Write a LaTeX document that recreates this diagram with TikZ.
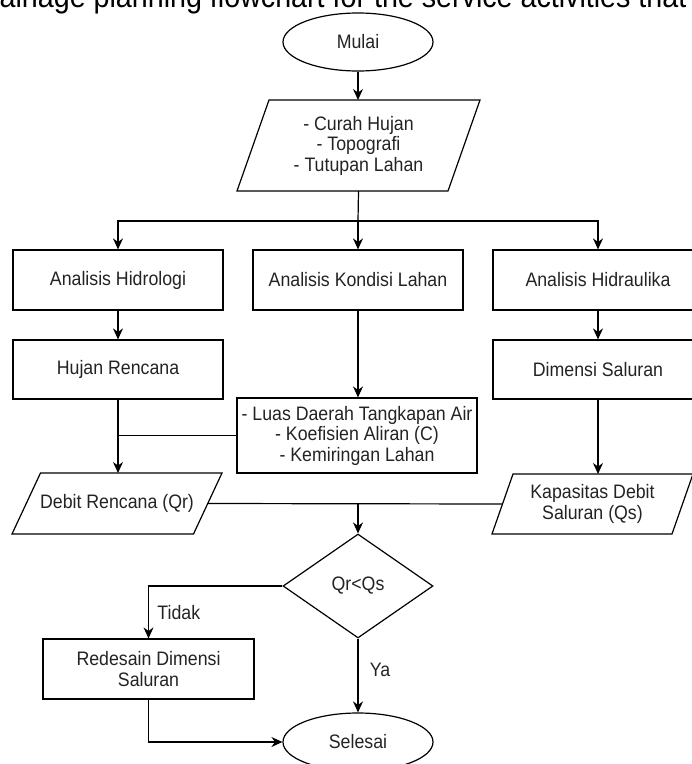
\documentclass[tikz,border=0pt]{standalone}
\usepackage{fontspec}
\setmainfont{Liberation Sans}[FakeStretch=0.91]
\usetikzlibrary{shapes.geometric,arrows.meta,calc}
\definecolor{tinta}{RGB}{35,35,35}
\tikzset{
    teks/.style={
        font=\fontsize{19.5}{20.5}\selectfont, text=tinta, align=center
    },
    blok/.style={
        teks, draw, line width=1.2pt, inner sep=0pt,
        minimum width=210pt, minimum height=60pt
    },
    terminal/.style={
        teks, draw, ellipse, line width=1.2pt, inner sep=0pt,
        minimum width=150pt, minimum height=58pt
    },
    masukan/.style={
        teks, inner sep=0pt, outer sep=0pt
    },
    keputusan/.style={
        teks, draw, diamond, line width=1.2pt, inner sep=0pt,
        minimum width=150pt, minimum height=104pt
    },
    garis/.style={line width=1.2pt},
    panah/.style={garis, -{Stealth[length=11pt,width=10pt]}}
}
% jajaran genjang di sekeliling node masukan: {node}{geser}
\newcommand{\jajargenjang}[2]{%
    \draw[garis] ($(#1.south west)+(-#2/2,0)$) -- ($(#1.south east)+(-#2/2,0)$)
        -- ($(#1.north east)+(#2/2,0)$) -- ($(#1.north west)+(#2/2,0)$) -- cycle;}

\begin{document}
\begin{tikzpicture}[x=1pt,y=-1pt,line join=miter]

% --- bidang gambar (ukuran sama dengan acuan) ---
    \useasboundingbox (0,0) rectangle (692,764);
    \clip (0,0) rectangle (692,764);

% judul yang terpotong di tepi atas
    \node[anchor=base west, inner sep=0pt, font=\fontsize{31.5}{34}\selectfont]
        (judul) at (-26,7) {drainage planning flowchart for the service activities that};

% mulai dan data masukan
    \node[terminal] (mulai) at (358,42) {Mulai};
    \node[masukan, minimum width=211pt, minimum height=91pt]
        (data) at (358.5,145.5) {- Curah Hujan\\- Topografi\\- Tutupan Lahan};
    \jajargenjang{data}{32}

% tiga kolom analisis
    \node[blok] (hidro) at (118,280) {Analisis Hidrologi};
    \node[blok] (kondisi) at (358,280) {Analisis Kondisi Lahan};
    \node[blok] (hidra) at (598,280) {Analisis Hidraulika};
    \node[blok, minimum height=59pt] (hujan) at (118,369.5) {Hujan Rencana};
    \node[blok, minimum height=59pt] (dimensi) at (598,369.5) {Dimensi Saluran};
    \node[blok, minimum width=240pt, minimum height=75pt]
        (luas) at (357,435.5) {- Luas Daerah Tangkapan Air\\- Koefisien Aliran (C)\\- Kemiringan Lahan};

% debit rencana dan kapasitas saluran
    \node[masukan, minimum width=181.5pt, minimum height=61pt]
        (debit) at (117,503.5) {Debit Rencana (Qr)};
    \jajargenjang{debit}{28.5}
    \node[masukan, minimum width=180pt, minimum height=60pt]
        (kapasitas) at (592.5,504) {Kapasitas Debit\\Saluran (Qs)};
    \jajargenjang{kapasitas}{21}

% keputusan dan akhir
    \node[keputusan] (cek) at (358,586) {Qr<Qs};
    \node[blok, minimum width=211pt] (redesain) at (148.5,669) {Redesain Dimensi\\Saluran};
    \node[terminal] (selesai) at (358,742) {Selesai};

% --- garis penghubung ---
    \coordinate (cabang) at (358,221);
    \draw[panah] (mulai.south) -- (mulai.south |- data.north);
    \draw[garis] (data.south) -- (cabang);
    \draw[panah] (cabang) -- (kondisi);
    \draw[panah] (cabang) -| (hidro);
    \draw[panah] (cabang) -| (hidra);

    \draw[panah] (hidro) -- (hujan);
    \draw[panah] (hidra) -- (dimensi);
    \draw[panah] (kondisi.south) -- (kondisi.south |- luas.north);

    \draw[panah] (hujan.south) -- (hujan.south |- debit.north);
    \draw[garis] (luas.west) -- (luas.west -| hujan.south);
    \draw[panah] (dimensi.south) -- (dimensi.south |- kapasitas.north);

    \draw[garis] (debit.east) -- (kapasitas.west);
    \coordinate (gabung) at (debit.east -| cek.north);
    \draw[panah] (gabung) -- (cek.north);

    \draw[panah] (cek.west) -| node[teks, pos=0.75, right=5pt] (tidak) {Tidak} (redesain.north);
    \draw[panah] (cek.south) -- node[teks, pos=0.43, right=8pt] (ya) {Ya} (selesai.north);
    \draw[panah] (redesain.south) |- (selesai.west);

\end{tikzpicture}
\end{document}
